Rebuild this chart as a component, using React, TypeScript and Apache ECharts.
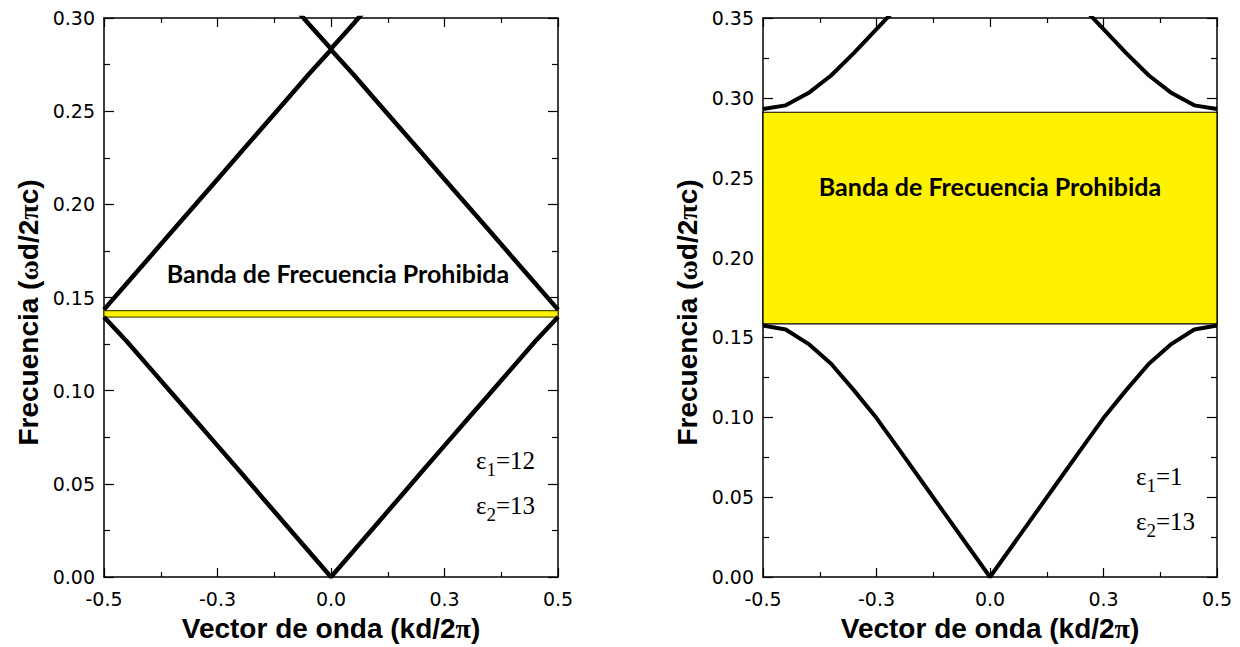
import React, { useEffect, useRef } from "react";
import * as echarts from "echarts";

// wave vector samples (kd/2π)
const kValues = [-0.5, -0.45, -0.4, -0.35, -0.3, -0.25, -0.2, -0.15, -0.1, -0.05, 0, 0.05, 0.1, 0.15, 0.2, 0.25, 0.3, 0.35, 0.4, 0.45, 0.5];

// Left panel (ε1=12, ε2=13)
const leftBand1 = [0.1395, 0.1265, 0.1125, 0.0985, 0.0845, 0.0705, 0.0565, 0.0423, 0.0282, 0.0141, 0, 0.0141, 0.0282, 0.0423, 0.0565, 0.0705, 0.0845, 0.0985, 0.1125, 0.1265, 0.1395];
const leftBand2 = [0.1435, 0.1575, 0.1715, 0.1855, 0.1995, 0.2135, 0.2275, 0.2415, 0.2555, 0.2695, 0.283, 0.2695, 0.2555, 0.2415, 0.2275, 0.2135, 0.1995, 0.1855, 0.1715, 0.1575, 0.1435];
const leftBand3 = [null, null, null, null, null, null, null, null, 0.3111, 0.2971, 0.2835, 0.2971, 0.3111, null, null, null, null, null, null, null, null];
const leftGap = [0.1395, 0.143];

// Right panel (ε1=1, ε2=13)
const rightBand1 = [0.1575, 0.155, 0.146, 0.1335, 0.117, 0.0995, 0.0797, 0.0598, 0.0398, 0.0199, 0, 0.0199, 0.0398, 0.0598, 0.0797, 0.0995, 0.117, 0.1335, 0.146, 0.155, 0.1575];
const rightBand2 = [0.293, 0.2953, 0.303, 0.314, 0.328, 0.343, 0.358, null, null, null, null, null, null, null, 0.358, 0.343, 0.328, 0.314, 0.303, 0.2953, 0.293];
const rightGap = [0.1585, 0.291];

// tick labels
const xTickValues = [-0.5, -0.25, 0, 0.25, 0.5];
const xTickLabels = ["-0.5", "-0.3", "0.0", "0.3", "0.5"];
const yTickLabelsLeft = ["0.00", "0.05", "0.10", "0.15", "0.20", "0.25", "0.30"];
const yTickLabelsRight = ["0.00", "0.05", "0.10", "0.15", "0.20", "0.25", "0.30", "0.35"];

const gapTitle = "Banda de Frecuencia Prohibida";
const xTitle = "{a|Vector de onda (kd/2}{g|π}{a|)}";
const yTitle = "{a|Frecuencia (}{g|ω}{a|d/2}{g|π}{a|c)}";

const pairs = (ys: (number | null)[]) => kValues.map((k, i) => [k, ys[i]]);

const xLabelFmt = (v: number) => {
  let best = 0;
  xTickValues.forEach((t, i) => {
    if (Math.abs(t - v) < Math.abs(xTickValues[best] - v)) best = i;
  });
  return xTickLabels[best];
};

const titleRich = {
  a: { fontFamily: "Liberation Sans", fontWeight: "bold", fontSize: 28, color: "#000" },
  g: { fontFamily: "Liberation Serif", fontWeight: "bold", fontSize: 28, color: "#000" },
};

const tickLabelStyle = { fontFamily: "DejaVu Sans", fontSize: 19, color: "#000" };

function makeX(grid: number, position: "bottom" | "top", showName: boolean) {
  return {
    type: "value",
    gridIndex: grid,
    position,
    min: -0.5,
    max: 0.5,
    interval: 0.25,
    name: showName ? xTitle : "",
    nameLocation: "middle",
    nameGap: 37,
    nameTextStyle: { fontFamily: "Liberation Sans", fontWeight: "bold", fontSize: 28, color: "#000", rich: titleRich },
    axisLine: { show: true, onZero: false, lineStyle: { color: "#000", width: 1.5 } },
    axisTick: { show: true, inside: true, length: 9, lineStyle: { color: "#000", width: 1.2 } },
    minorTick: { show: true, splitNumber: 2, length: 5, lineStyle: { color: "#000", width: 1.2 } },
    axisLabel: { show: position === "bottom", margin: 12, formatter: xLabelFmt, ...tickLabelStyle },
    splitLine: { show: false },
  };
}

function makeY(grid: number, position: "left" | "right", max: number, labels: string[], showName: boolean) {
  return {
    type: "value",
    gridIndex: grid,
    position,
    min: 0,
    max,
    interval: 0.05,
    name: showName ? yTitle : "",
    nameLocation: "middle",
    nameGap: 62,
    nameRotate: 90,
    nameTextStyle: {
      fontFamily: "Liberation Sans",
      fontWeight: "bold",
      fontSize: 28,
      color: "#000",
      rich: titleRich,
      padding: [0, 30, 0, 0],
    },
    axisLine: { show: true, onZero: false, lineStyle: { color: "#000", width: 1.5 } },
    axisTick: { show: true, inside: true, length: 10, lineStyle: { color: "#000", width: 1.2 } },
    minorTick: { show: true, splitNumber: 2, length: 6, lineStyle: { color: "#000", width: 1.2 } },
    axisLabel: {
      show: position === "left",
      margin: 9,
      formatter: (v: number) => labels[Math.round(v / 0.05)] ?? "",
      ...tickLabelStyle,
    },
    splitLine: { show: false },
  };
}

function bandSeries(xi: number, yi: number, ys: (number | null)[], width: number) {
  return {
    type: "line",
    xAxisIndex: xi,
    yAxisIndex: yi,
    data: pairs(ys),
    showSymbol: false,
    symbol: "none",
    connectNulls: false,
    z: 3,
    lineStyle: { color: "#000", width },
  };
}

function gapSeries(xi: number, yi: number, gap: number[], border: string) {
  return {
    type: "line",
    xAxisIndex: xi,
    yAxisIndex: yi,
    data: [[0, -1]],
    showSymbol: false,
    symbol: "none",
    z: 1,
    lineStyle: { width: 0 },
    markArea: {
      silent: true,
      itemStyle: { color: "#FFF200", borderColor: border, borderWidth: 1.2 },
      data: [[{ xAxis: -0.5, yAxis: gap[0] }, { xAxis: 0.5, yAxis: gap[1] }]],
    },
  };
}

function epsLabel(x: number, y: number, e1: string, e2: string) {
  const rich = {
    m: { fontFamily: "Liberation Serif", fontSize: 25, color: "#000", lineHeight: 25 },
    s: { fontFamily: "Liberation Serif", fontSize: 19, color: "#000", lineHeight: 19, padding: [18, 0, 0, 0] },
  };
  return [
    {
      type: "text",
      x,
      y,
      style: { text: `{m|ε}{s|1}{m|=${e1}}`, rich, verticalAlign: "middle", align: "left" },
    },
    {
      type: "text",
      x,
      y: y + 45,
      style: { text: `{m|ε}{s|2}{m|=${e2}}`, rich, verticalAlign: "middle", align: "left" },
    },
  ];
}

const gapTextStyle = {
  text: gapTitle,
  fontFamily: "Lato",
  fontWeight: "bold",
  fontSize: 25,
  fill: "#000",
  align: "center",
  verticalAlign: "middle",
};

export default function App() {
  const ref = useRef<HTMLDivElement>(null);
  useEffect(() => {
    if (!ref.current) return;
    const chart = echarts.init(ref.current, null, { renderer: "svg" });
    const option: any = {
      animation: false,
      backgroundColor: "#fff",
      grid: [
        { left: 104, top: 18, width: 454, height: 565 },
        { left: 763, top: 18, width: 454, height: 565 },
      ],
      xAxis: [makeX(0, "bottom", true), makeX(0, "top", false), makeX(1, "bottom", true), makeX(1, "top", false)],
      yAxis: [
        makeY(0, "left", 0.3, yTickLabelsLeft, true),
        makeY(0, "right", 0.3, yTickLabelsLeft, false),
        makeY(1, "left", 0.35, yTickLabelsRight, true),
        makeY(1, "right", 0.35, yTickLabelsRight, false),
      ],
      series: [
        gapSeries(0, 0, leftGap, "#55550a"),
        bandSeries(0, 0, leftBand1, 4.5),
        bandSeries(0, 0, leftBand2, 4.5),
        bandSeries(0, 0, leftBand3, 4.5),
        gapSeries(2, 2, rightGap, "#000"),
        bandSeries(2, 2, rightBand1, 4),
        bandSeries(2, 2, rightBand2, 4),
      ],
      graphic: [
        { type: "text", x: 338, y: 273, z: 10, style: gapTextStyle },
        { type: "text", x: 990, y: 186, z: 10, style: gapTextStyle },
        ...epsLabel(476, 460, "12", "13"),
        ...epsLabel(1136, 476, "1", "13"),
      ],
    };
    chart.setOption(option);
    return () => chart.dispose();
  }, []);
  return (
    <div
      ref={ref}
      style={{ position: "absolute", left: 0, top: 0, width: 1240, height: 647 }}
    />
  );
}
